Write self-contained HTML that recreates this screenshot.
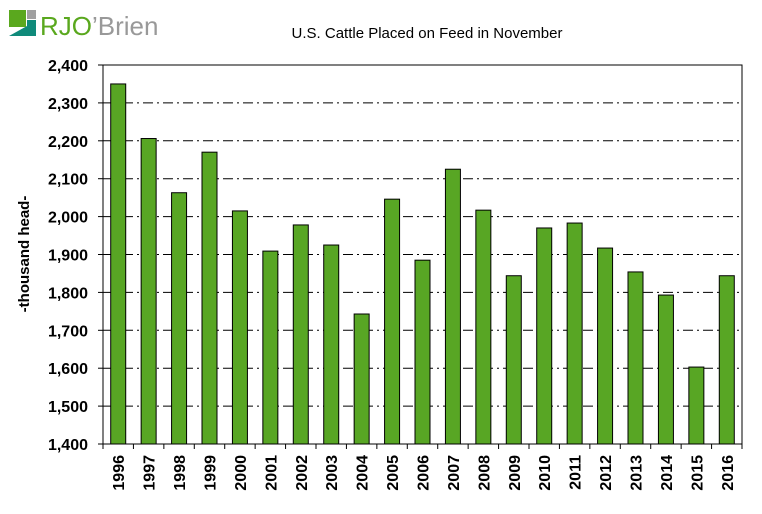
<!DOCTYPE html>
<html><head><meta charset="utf-8"><style>
html,body{margin:0;padding:0;background:#fff;width:762px;height:514px;overflow:hidden}
svg text{font-family:"Liberation Sans",Arial,sans-serif}
</style></head><body>
<svg id="chart" width="762" height="514" xmlns="http://www.w3.org/2000/svg">
<g>
<rect x="9" y="10" width="17" height="17" fill="#5aa81e"/>
<rect x="27" y="10" width="9" height="9" fill="#a0a0a0"/>
<polygon points="9,36 27,26 27,20 36,20 36,36" fill="#0f8a7a"/>
<text x="40" y="35" font-size="26" fill="#5aa81e">RJO<tspan fill="#999">’Brien</tspan></text>
</g>
<text x="427" y="38" font-size="15" text-anchor="middle" fill="#000">U.S. Cattle Placed on Feed in November</text>
<text transform="translate(29,254) rotate(-90)" font-size="15" font-weight="bold" text-anchor="middle">-thousand head-</text>
<g id="grid"></g><g id="bars"></g><g id="axes"></g>
</svg>
<script>
const categories=["1996","1997","1998","1999","2000","2001","2002","2003","2004","2005","2006","2007","2008","2009","2010","2011","2012","2013","2014","2015","2016"];
const values=[2350,2206,2063,2170,2015,1909,1978,1925,1743,2046,1885,2125,2017,1844,1970,1983,1917,1854,1793,1603,1844];
const yTicks=[1400,1500,1600,1700,1800,1900,2000,2100,2200,2300,2400];
const yTickLabels=["1,400","1,500","1,600","1,700","1,800","1,900","2,000","2,100","2,200","2,300","2,400"];
const NS="http://www.w3.org/2000/svg";
const L=103,R=742,T=65,B=444,ymin=1400,ymax=2400;
const y=v=>B-(v-ymin)/(ymax-ymin)*(B-T);
const step=(R-L)/categories.length;
const x=i=>L+step*i;
function mk(tag,attrs,parent){const e=document.createElementNS(NS,tag);for(const k in attrs)e.setAttribute(k,attrs[k]);document.getElementById(parent).appendChild(e);return e;}
yTicks.forEach((t,i)=>{
  if(t>ymin&&t<ymax){const g=mk('line',{x1:L,x2:R,y1:y(t),y2:y(t),stroke:'#000','stroke-width':1,'stroke-dasharray':'10,4,2,4'},'grid');
  
  }
  const tk=mk('line',{x1:L-5,x2:L,y1:y(t),y2:y(t),stroke:'#000'},'axes');
  
  
  const lb=mk('text',{x:L-15,y:y(t)+6,'font-size':16,'font-weight':'bold','text-anchor':'end'},'axes');
  lb.textContent=yTickLabels[i];
  
  
});
const bw=15;
categories.forEach((c,i)=>{
  const cx=x(i)+step/2;
  const b=mk('rect',{x:cx-bw/2,y:y(values[i]),width:bw,height:B-y(values[i]),fill:'#58a624',stroke:'#000','stroke-width':1},'bars');
  
  
  const lb=mk('text',{transform:`translate(${cx+6},${B+11}) rotate(-90)`,'font-size':16,'font-weight':'bold','text-anchor':'end'},'axes');
  lb.textContent=c;
  
  
});
for(let i=0;i<=categories.length;i++){
  const tk=mk('line',{x1:x(i),x2:x(i),y1:B,y2:B+5,stroke:'#000'},'axes');
  
  
}
const frame=mk('rect',{x:L,y:T,width:R-L,height:B-T,fill:'none',stroke:'#000','stroke-width':1},'axes');


</script>
</body></html>
